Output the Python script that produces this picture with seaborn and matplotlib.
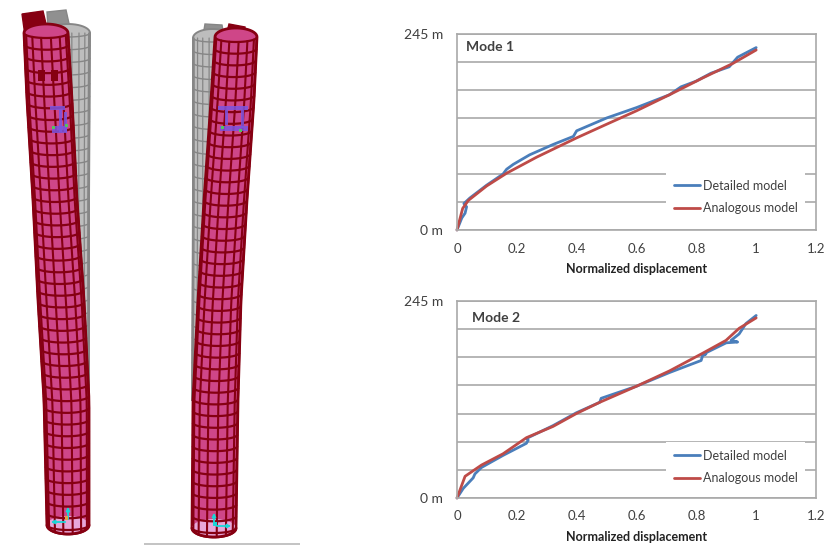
import numpy as np
import pandas as pd
import matplotlib
matplotlib.use("Agg")
import matplotlib.pyplot as plt
import seaborn as sns
from matplotlib.patches import Polygon, Rectangle

sns.set_theme(style="white")
plt.rcParams['font.family'] = ['Lato', 'DejaVu Sans']

DETAILED = "Detailed model"
ANALOG = "Analogous model"
BLUE = "#4a7ebb"
RED = "#be4b48"
GRID = "#a9a9a9"
TXT = "#404040"

m1_det_x = [0, .016, .027, .032, .023, .043, .099, .154, .166, .188, .243, .322, .389, .400, .500, .600, .710, .749, .799, .849, .910, .938, 1]
m1_det_y = [0, 15, 21, 29, 33, 40, 56, 70, 76, 82, 94, 107, 117, 124, 140, 153, 169, 179, 186, 196, 204, 216, 228]
m1_ana_x = [0, .019, .038, .099, .166, .266, .399, .499, .600, .710, .821, .921, 1]
m1_ana_y = [0, 27, 37, 55, 71, 91, 115, 132, 149, 169, 190, 208, 225]

m2_det_x = [0, .021, .054, .060, .082, .154, .232, .238, .232, .321, .399, .477, .482, .600, .710, .816, .821, .832, .818, .900, .938, .916, .943, .966, 1]
m2_det_y = [0, 12, 25, 30, 38, 53, 68, 72, 74, 90, 106, 119, 124, 139, 156, 171, 177, 179, 178, 193, 194, 196, 204, 217, 227]
m2_ana_x = [0, .027, .082, .154, .232, .321, .399, .477, .600, .710, .821, .899, .943, 1]
m2_ana_y = [0, 27, 41, 55, 75, 89, 105, 119, 139, 158, 180, 196, 211, 224]

x_ticks = [0, .2, .4, .6, .8, 1, 1.2]
x_labels = ["0", "0.2", "0.4", "0.6", "0.8", "1", "1.2"]
y_ticks = [0, 35, 70, 105, 140, 175, 210, 245]
y_labels = ["0 m", "", "", "", "", "", "", "245 m"]

W, H = 835, 546
fig = plt.figure(figsize=(W / 100, H / 100), dpi=100)


def box(l, t, r, b):
    return [l / W, 1 - b / H, (r - l) / W, (b - t) / H]


def chart(rect, title, title_xy, dx, dy, ax_, ay_, legend_box):
    ax = fig.add_axes(box(*rect))
    df = pd.concat([
        pd.DataFrame({"x": dx, "y": dy, "Model": DETAILED}),
        pd.DataFrame({"x": ax_, "y": ay_, "Model": ANALOG}),
    ])
    sns.lineplot(data=df, x="x", y="y", hue="Model", hue_order=[DETAILED, ANALOG],
                 palette=[BLUE, RED], sort=False, estimator=None, errorbar=None,
                 linewidth=2.0, ax=ax, clip_on=False)
    ax.set_xlim(0, 1.2)
    ax.set_ylim(0, 245)
    ax.set_xticks(x_ticks, x_labels, fontsize=9.5, color=TXT)
    ax.set_yticks(y_ticks, y_labels, fontsize=10, color=TXT)
    ax.grid(axis="y", color=GRID, lw=1.2)
    ax.set_axisbelow(True)
    ax.tick_params(axis="x", length=0, pad=9)
    ax.tick_params(axis="y", length=3, width=1, color=GRID, pad=7)
    for s in ax.spines.values():
        s.set_color(GRID)
        s.set_linewidth(1.2)
    ax.set_xlabel("Normalized displacement", fontsize=9, fontweight="bold",
                  color="#222222", labelpad=6)
    ax.set_ylabel("")
    ax.text(title_xy[0], title_xy[1], title, fontsize=10, fontweight="bold",
            color=TXT, transform=fig.transFigure, ha="left", va="center")
    leg = ax.legend(loc="upper left", bbox_to_anchor=legend_box,
                    bbox_transform=fig.transFigure, frameon=True, facecolor="white",
                    edgecolor="none", framealpha=1, fontsize=9, title=None,
                    labelspacing=0.85, handlelength=2.08, handletextpad=0.25,
                    borderpad=0.6, borderaxespad=0, fancybox=False)
    for t in leg.get_texts():
        t.set_color(TXT)
    return ax


chart((457, 34, 816, 230), "Mode 1", (466 / W, 1 - 47 / H), m1_det_x, m1_det_y, m1_ana_x, m1_ana_y,
      (666 / W, 1 - 172 / H))
chart((457, 301, 816, 498), "Mode 2", (472 / W, 1 - 318 / H), m2_det_x, m2_det_y, m2_ana_x, m2_ana_y,
      (666 / W, 1 - 442 / H))

# ---- tower illustrations ----
art = fig.add_axes([0, 0, 1, 1], zorder=-1)
art.set_xlim(0, W)
art.set_ylim(H, 0)
art.axis("off")

MESH = "#860012"
FILL = "#cf4688"
GREY = "#868686"

# outlines: y, left edge, right edge
t1_y = [33, 100, 200, 300, 400, 525]
t1_l = [24, 27, 33, 38, 44, 47]
t1_r = [68, 72, 77, 84, 89, 89]
t2_y = [37, 100, 200, 300, 400, 528]
t2_l = [215, 211, 204, 198, 193, 192]
t2_r = [257, 254, 247, 241, 238, 236]


def arc(cx, hw, y, sag, n=24, start=np.pi, stop=0):
    th = np.linspace(start, stop, n)
    return cx + hw * np.cos(th), y + sag * np.sin(th)


def tower(ys, ls, rs, cols, rings, shift, sag=5):
    yy = np.linspace(ys[0], ys[-1], rings)
    ll = np.interp(yy, ys, ls)
    rr = np.interp(yy, ys, rs)
    tx, ty = arc((ll[0] + rr[0]) / 2, (rr[0] - ll[0]) / 2, yy[0], -9)
    bx, by = arc((ll[-1] + rr[-1]) / 2, (rr[-1] - ll[-1]) / 2, yy[-1], sag + 4, start=0, stop=np.pi)
    outline = np.r_[np.c_[tx, ty], np.c_[rr, yy][1:], np.c_[bx, by], np.c_[ll, yy][::-1][1:]]
    art.add_patch(Polygon(outline, closed=True, fc=FILL, ec=MESH, lw=2.0, zorder=2))
    # lighter open base, seen through the wall
    ux, uy = arc((ll[-1] + rr[-1]) / 2, (rr[-1] - ll[-1]) / 2, yy[-1], -9)
    art.add_patch(Polygon(np.r_[np.c_[ux, uy], np.c_[bx, by]], closed=True,
                          fc="#e8a6d8", ec="none", zorder=2.1))
    # rings
    for i, y in enumerate(yy):
        x, yc = arc((ll[i] + rr[i]) / 2, (rr[i] - ll[i]) / 2, y, sag, start=np.pi, stop=0)
        art.plot(x, yc, color=MESH, lw=1.6, zorder=3, solid_capstyle="butt")
    # columns, closing on the cap
    angles = np.linspace(np.pi, 0, cols) + shift
    angles = angles[(angles <= np.pi) & (angles >= 0)]
    for a in angles:
        cx = (ll + rr) / 2 + (rr - ll) / 2 * np.cos(a)
        art.plot(np.r_[cx, cx[-1]], np.r_[yy + sag * np.sin(a), yy[-1] + (sag + 4) * np.sin(a)],
                 color=MESH, lw=1.5, zorder=3)
    art.plot(bx, by, color=MESH, lw=2.0, zorder=3)


def grey_tower(ys, ls, rs, core):
    yy = np.linspace(ys[0], ys[-1], 30)
    ll = np.interp(yy, ys, ls)
    rr = np.interp(yy, ys, rs)
    art.add_patch(Polygon(core, closed=True, fc="#909090", ec=GREY, lw=1, zorder=1))
    tx, ty = arc((ll[0] + rr[0]) / 2, (rr[0] - ll[0]) / 2, yy[0], -9)
    art.add_patch(Polygon(np.r_[np.c_[tx, ty], np.c_[rr, yy], np.c_[ll, yy][::-1]], closed=True,
                          fc="#bdbdbd", ec=GREY, lw=1.4, zorder=1))
    for i, y in enumerate(yy):
        art.plot(*arc((ll[i] + rr[i]) / 2, (rr[i] - ll[i]) / 2, y, 4), color=GREY, lw=1.0, zorder=1.1)
    for a in np.linspace(np.pi, 0, 10):
        art.plot((ll + rr) / 2 + (rr - ll) / 2 * np.cos(a), yy, color=GREY, lw=.9, zorder=1.1)


gt1_y, gt1_l, gt1_r = [33, 200, 400], [46, 48, 50], [90, 89, 89]
gt2_y, gt2_l, gt2_r = [38, 200, 400], [193, 193, 192], [232, 232, 232]
grey_tower(gt1_y, gt1_l, gt1_r, [(47, 12), (66, 10), (70, 28), (48, 28)])
grey_tower(gt2_y, gt2_l, gt2_r, [(205, 24), (222, 25), (224, 36), (203, 36)])

# dark red caps
art.add_patch(Polygon([(22, 14), (43, 11), (47, 28), (25, 36)], closed=True, fc="#860012", ec="#860012", zorder=1.5))
art.add_patch(Polygon([(229, 24), (245, 27), (245, 36), (226, 36)], closed=True, fc="#860012", ec="#860012", zorder=1.5))

tower(t1_y, t1_l, t1_r, cols=8, rings=43, shift=0.0)
tower(t2_y, t2_l, t2_r, cols=8, rings=43, shift=0.1)

# dark solid cells on tower 1
for (x, y) in [(38, 70), (51, 70)]:
    art.add_patch(Rectangle((x, y), 7, 11, fc="#860012", ec="none", zorder=3.5))

# blue / green detail marks
for (x0, y0, x1, y1) in [(50, 106, 65, 110), (59, 110, 62, 132), (64, 112, 67, 132), (52, 126, 67, 133),
                         (218, 106, 248, 110), (225, 110, 228, 125), (241, 110, 244, 128), (220, 126, 248, 131)]:
    art.add_patch(Rectangle((x0, y0), x1 - x0, y1 - y0, fc="#7b55e0", ec="none", alpha=.85, zorder=3.6))
for (x, y) in [(52, 126), (65, 124), (221, 126), (239, 129)]:
    art.add_patch(Rectangle((x, y), 2.5, 3, fc="#55c060", ec="none", zorder=3.7))

# global axes triads
CY = "#19d6d6"
for (ox, oy, dx, dy) in [(68, 522, 0, -18), (68, 522, -20, 0), (214, 526, 0, -16), (214, 526, 20, 0)]:
    art.annotate("", xy=(ox + dx, oy + dy), xytext=(ox, oy), zorder=4,
                 arrowprops=dict(arrowstyle="-|>", color=CY, lw=1.3, mutation_scale=5))
art.add_patch(Rectangle((65, 516), 3, 4, fc="#e6a040", ec="none", zorder=4.1))
art.add_patch(Rectangle((213, 522), 4, 4, fc=CY, ec="none", zorder=4.1))

# grey floor line
art.add_patch(Rectangle((144, 543), 156, 1.5, fc="#c4c4c4", ec="none", zorder=1))

fig.savefig("out.png", dpi=100)
